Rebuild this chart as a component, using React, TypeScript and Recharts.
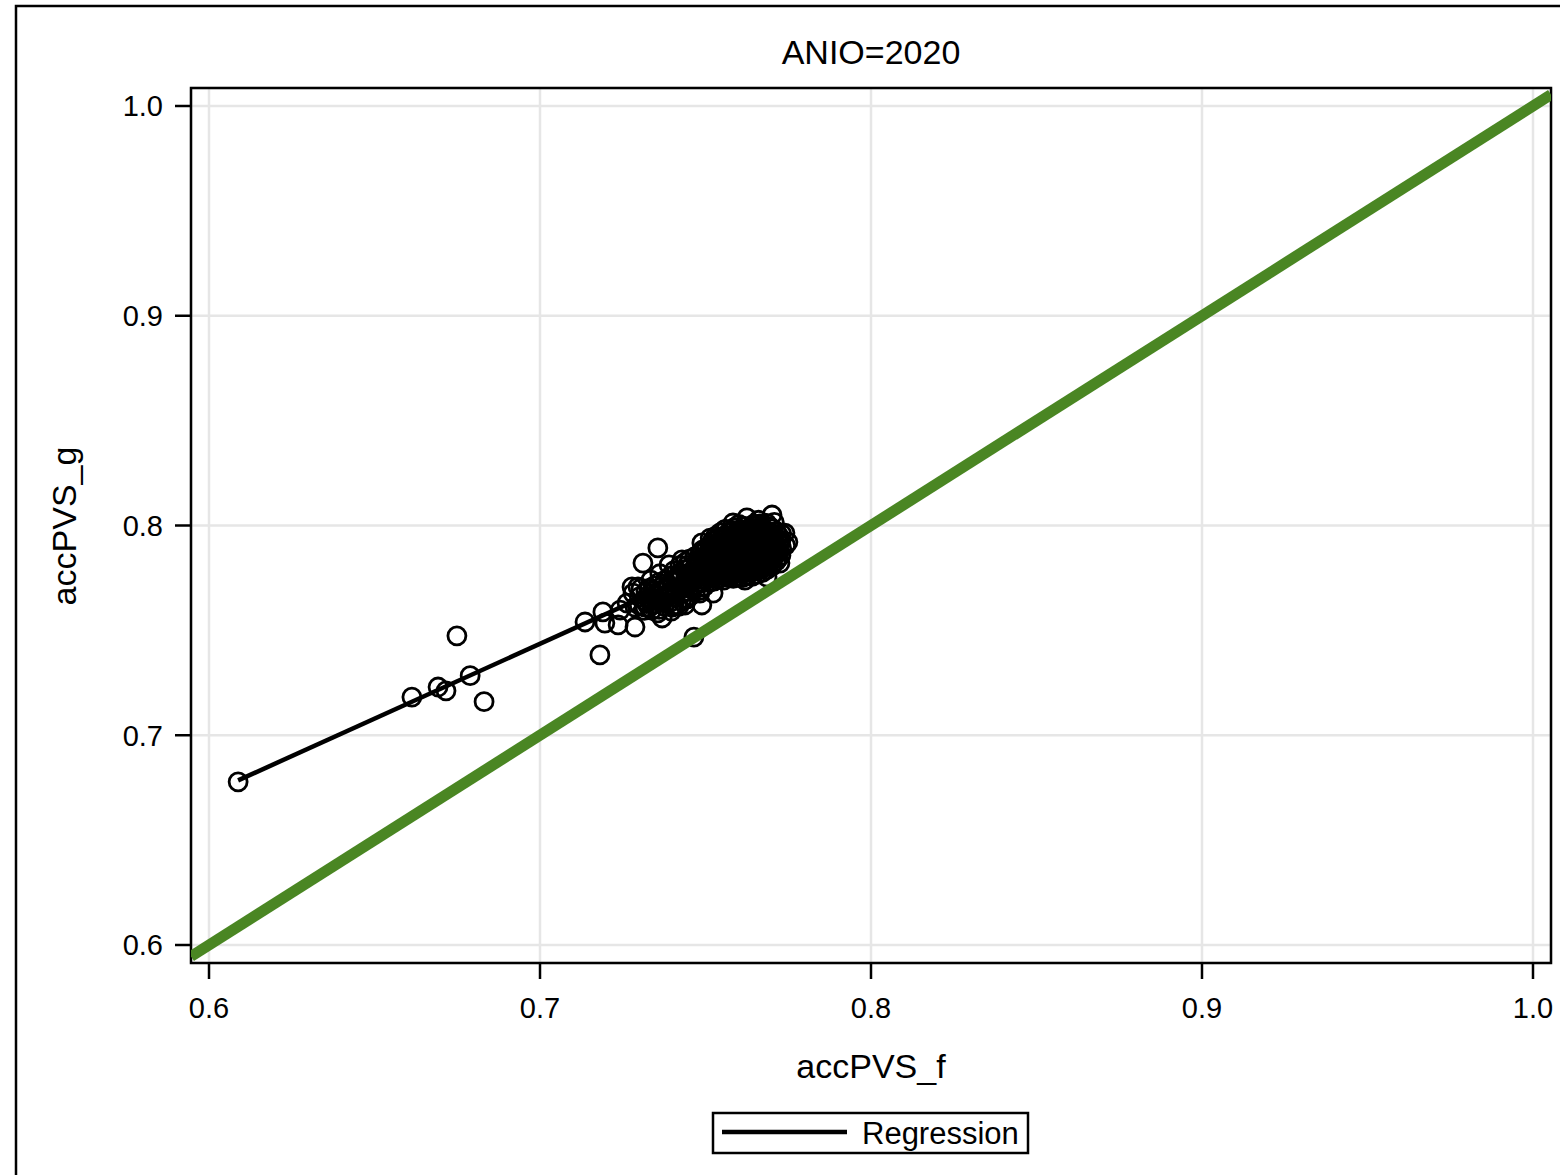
import React from "react";
import {
  ComposedChart,
  Scatter,
  XAxis,
  YAxis,
  CartesianGrid,
  ReferenceArea,
} from "recharts";

// ---- data ----
const titleText = "ANIO=2020";
const xLabel = "accPVS_f";
const yLabel = "accPVS_g";
const legendLabel = "Regression";

const xTicks = [0.6, 0.7, 0.8, 0.9, 1.0];
const yTicks = [0.6, 0.7, 0.8, 0.9, 1.0];
const xDomain: [number, number] = [0.59456, 1.00544];
const yDomain: [number, number] = [0.59142, 1.00858];

// isolated observations on the left
const leftPoints: [number, number][] = [
  [0.6088, 0.6778], [0.6613, 0.7182], [0.6692, 0.7230], [0.6716, 0.7212],
  [0.6749, 0.7474], [0.6789, 0.7284], [0.6831, 0.7160],
];

// lower-left tail of the cluster
const tailPoints: [number, number][] = [
  [0.7136, 0.7540], [0.7181, 0.7383], [0.7190, 0.7588], [0.7196, 0.7535],
  [0.7236, 0.7526], [0.7242, 0.7597], [0.7263, 0.7630], [0.7281, 0.7678],
  [0.7287, 0.7516], [0.7296, 0.7707], [0.7278, 0.7707], [0.7311, 0.7821],
  [0.7356, 0.7893], [0.7317, 0.7611], [0.7338, 0.7645], [0.7356, 0.7583],
  [0.7369, 0.7559], [0.7465, 0.7468], [0.7489, 0.7621], [0.7414, 0.7621],
  [0.7287, 0.7611], [0.7338, 0.7597], [0.7399, 0.7611], [0.7438, 0.7621],
  [0.7483, 0.7678], [0.7523, 0.7678], [0.7619, 0.7740], [0.7429, 0.7836],
  [0.7390, 0.7812],
  [0.7300, 0.7620], [0.7300, 0.7660], [0.7305, 0.7700],
  [0.7315, 0.7595], [0.7318, 0.7640], [0.7320, 0.7685],
  [0.7330, 0.7610], [0.7332, 0.7655], [0.7330, 0.7700], [0.7335, 0.7740],
  [0.7345, 0.7625], [0.7347, 0.7668], [0.7345, 0.7712],
  [0.7360, 0.7600], [0.7362, 0.7640], [0.7360, 0.7685], [0.7358, 0.7728], [0.7362, 0.7770],
  [0.7375, 0.7615], [0.7377, 0.7655], [0.7375, 0.7698], [0.7378, 0.7740],
  [0.7390, 0.7630], [0.7392, 0.7672], [0.7390, 0.7715], [0.7393, 0.7758],
  [0.7405, 0.7620], [0.7407, 0.7660], [0.7405, 0.7700], [0.7408, 0.7742], [0.7405, 0.7785],
  [0.7428, 0.7640], [0.7430, 0.7680], [0.7445, 0.7650], [0.7447, 0.7685],
  [0.7322, 0.7628], [0.7340, 0.7688], [0.7352, 0.7645], [0.7368, 0.7710],
  [0.7383, 0.7668], [0.7398, 0.7735], [0.7412, 0.7680], [0.7418, 0.7760],
  [0.7435, 0.7705], [0.7397, 0.7592], [0.7420, 0.7615], [0.7455, 0.7665],
];

// dense core of the cluster
const corePoints: [number, number][] = [
  [0.7420, 0.7705], [0.7422, 0.7738], [0.7420, 0.7772], [0.7423, 0.7810],
  [0.7438, 0.7718], [0.7440, 0.7752], [0.7437, 0.7790], [0.7440, 0.7826],
  [0.7452, 0.7700], [0.7454, 0.7735], [0.7452, 0.7768], [0.7455, 0.7802], [0.7452, 0.7840],
  [0.7468, 0.7712], [0.7470, 0.7745], [0.7467, 0.7781], [0.7470, 0.7815], [0.7468, 0.7852],
  [0.7482, 0.7690], [0.7484, 0.7725], [0.7482, 0.7758], [0.7485, 0.7792], [0.7482, 0.7830], [0.7484, 0.7866],
  [0.7497, 0.7710], [0.7499, 0.7740], [0.7497, 0.7772], [0.7500, 0.7808], [0.7497, 0.7843], [0.7499, 0.7880], [0.7489, 0.7917],
  [0.7511, 0.7728], [0.7513, 0.7762], [0.7511, 0.7796], [0.7514, 0.7828], [0.7511, 0.7862], [0.7513, 0.7897], [0.7514, 0.7940],
  [0.7526, 0.7735], [0.7528, 0.7770], [0.7526, 0.7804], [0.7529, 0.7838], [0.7526, 0.7875], [0.7528, 0.7910], [0.7530, 0.7948],
  [0.7540, 0.7745], [0.7542, 0.7779], [0.7540, 0.7812], [0.7543, 0.7850], [0.7540, 0.7884], [0.7542, 0.7920], [0.7544, 0.7965],
  [0.7555, 0.7740], [0.7557, 0.7772], [0.7555, 0.7806], [0.7558, 0.7842], [0.7555, 0.7878], [0.7557, 0.7912], [0.7555, 0.7948], [0.7558, 0.7980],
  [0.7569, 0.7752], [0.7571, 0.7788], [0.7569, 0.7822], [0.7572, 0.7858], [0.7569, 0.7893], [0.7571, 0.7928], [0.7569, 0.7965], [0.7583, 0.8012],
  [0.7584, 0.7748], [0.7586, 0.7780], [0.7584, 0.7815], [0.7587, 0.7850], [0.7584, 0.7886], [0.7586, 0.7920], [0.7584, 0.7955], [0.7587, 0.7990],
  [0.7598, 0.7758], [0.7600, 0.7794], [0.7598, 0.7828], [0.7601, 0.7864], [0.7598, 0.7900], [0.7600, 0.7935], [0.7598, 0.7970], [0.7601, 0.8005],
  [0.7613, 0.7752], [0.7615, 0.7786], [0.7613, 0.7820], [0.7616, 0.7855], [0.7613, 0.7890], [0.7615, 0.7926], [0.7613, 0.7962], [0.7616, 0.7995],
  [0.7627, 0.7762], [0.7629, 0.7798], [0.7627, 0.7834], [0.7630, 0.7870], [0.7627, 0.7905], [0.7629, 0.7940], [0.7627, 0.7978], [0.7625, 0.8036],
  [0.7642, 0.7758], [0.7644, 0.7790], [0.7642, 0.7826], [0.7645, 0.7862], [0.7642, 0.7897], [0.7644, 0.7932], [0.7642, 0.7968], [0.7645, 0.8005],
  [0.7656, 0.7768], [0.7658, 0.7803], [0.7656, 0.7840], [0.7659, 0.7875], [0.7656, 0.7910], [0.7658, 0.7946], [0.7656, 0.7985], [0.7660, 0.8025],
  [0.7671, 0.7775], [0.7673, 0.7812], [0.7671, 0.7848], [0.7674, 0.7884], [0.7671, 0.7920], [0.7673, 0.7955], [0.7671, 0.7992],
  [0.7686, 0.7754], [0.7685, 0.7790], [0.7687, 0.7826], [0.7685, 0.7862], [0.7688, 0.7898], [0.7685, 0.7934], [0.7687, 0.7970], [0.7685, 0.8010],
  [0.7700, 0.7805], [0.7702, 0.7840], [0.7700, 0.7876], [0.7703, 0.7912], [0.7700, 0.7948], [0.7702, 0.7984], [0.7701, 0.8050],
  [0.7714, 0.7830], [0.7716, 0.7866], [0.7714, 0.7900], [0.7717, 0.7935], [0.7714, 0.7972],
  [0.7725, 0.7821], [0.7728, 0.7858], [0.7730, 0.7892], [0.7728, 0.7928], [0.7730, 0.7960],
  [0.7740, 0.7964], [0.7749, 0.7921], [0.7742, 0.7905],
];

// interleaved observations filling the core
const coreFillPoints: [number, number][] = [
  [0.7445, 0.7735], [0.7446, 0.7772], [0.7445, 0.7810],
  [0.7475, 0.7728], [0.7476, 0.7764], [0.7475, 0.7798], [0.7477, 0.7835],
  [0.7490, 0.7742], [0.7491, 0.7776], [0.7490, 0.7812], [0.7492, 0.7848], [0.7490, 0.7882],
  [0.7504, 0.7755], [0.7505, 0.7790], [0.7504, 0.7825], [0.7506, 0.7860], [0.7504, 0.7895],
  [0.7519, 0.7750], [0.7520, 0.7785], [0.7519, 0.7820], [0.7521, 0.7855], [0.7519, 0.7890], [0.7520, 0.7925],
  [0.7533, 0.7760], [0.7534, 0.7795], [0.7533, 0.7830], [0.7535, 0.7866], [0.7533, 0.7900], [0.7534, 0.7935],
  [0.7548, 0.7762], [0.7549, 0.7796], [0.7548, 0.7830], [0.7550, 0.7866], [0.7548, 0.7902], [0.7549, 0.7938],
  [0.7562, 0.7770], [0.7563, 0.7805], [0.7562, 0.7840], [0.7564, 0.7875], [0.7562, 0.7910], [0.7563, 0.7946], [0.7562, 0.7982],
  [0.7577, 0.7765], [0.7578, 0.7800], [0.7577, 0.7835], [0.7579, 0.7870], [0.7577, 0.7905], [0.7578, 0.7940], [0.7577, 0.7975],
  [0.7591, 0.7775], [0.7592, 0.7810], [0.7591, 0.7845], [0.7593, 0.7880], [0.7591, 0.7916], [0.7592, 0.7952], [0.7591, 0.7988],
  [0.7606, 0.7770], [0.7607, 0.7805], [0.7606, 0.7840], [0.7608, 0.7874], [0.7606, 0.7910], [0.7607, 0.7945], [0.7606, 0.7980],
  [0.7620, 0.7778], [0.7621, 0.7814], [0.7620, 0.7850], [0.7622, 0.7886], [0.7620, 0.7922], [0.7621, 0.7958], [0.7620, 0.7995],
  [0.7635, 0.7775], [0.7636, 0.7810], [0.7635, 0.7845], [0.7637, 0.7880], [0.7635, 0.7915], [0.7636, 0.7952], [0.7635, 0.7990],
  [0.7649, 0.7785], [0.7650, 0.7820], [0.7649, 0.7856], [0.7651, 0.7892], [0.7649, 0.7928], [0.7650, 0.7962], [0.7649, 0.7998],
  [0.7664, 0.7790], [0.7665, 0.7826], [0.7664, 0.7862], [0.7666, 0.7898], [0.7664, 0.7934], [0.7665, 0.7970], [0.7664, 0.8008],
  [0.7678, 0.7800], [0.7679, 0.7836], [0.7678, 0.7872], [0.7680, 0.7908], [0.7678, 0.7944], [0.7679, 0.7980],
  [0.7693, 0.7815], [0.7694, 0.7850], [0.7693, 0.7886], [0.7695, 0.7922], [0.7693, 0.7958], [0.7694, 0.7995],
  [0.7707, 0.7848], [0.7708, 0.7884], [0.7707, 0.7918], [0.7709, 0.7954], [0.7708, 0.8015],
  [0.7721, 0.7845], [0.7722, 0.7880], [0.7721, 0.7915], [0.7722, 0.7950],
];

const regressionLine = [
  { x: 0.6088, y: 0.6785 },
  { x: 0.7745, y: 0.7968 },
];
const identityLine = [
  { x: 0.59456, y: 0.59456 },
  { x: 1.00544, y: 1.00544 },
];

const scatterData = [...leftPoints, ...tailPoints, ...corePoints, ...coreFillPoints].map(([f, g]) => ({ x: f, y: g }));

const FONT = "Arial, 'Liberation Sans', Helvetica, sans-serif";
const GREEN = "#4a8623";

const Ring = (props: any) => {
  if (props.cx == null || props.cy == null) return <g />;
  return <circle cx={props.cx} cy={props.cy} r={9} fill="none" stroke="#000" strokeWidth={2.8} />;
};
const NoShape = () => <g />;

export default function App() {
  return (
    <div style={{ position: "absolute", left: 0, top: 0, width: 1560, height: 1175, overflow: "hidden", background: "#fff" }}>
      <ComposedChart
        width={1560}
        height={1175}
        margin={{ top: 88, right: 9, bottom: 152, left: 0 }}
        style={{ fontFamily: FONT }}
      >
        <CartesianGrid stroke="#e6e6e6" strokeWidth={2.5} />
        <XAxis
          type="number"
          dataKey="x"
          domain={xDomain}
          allowDataOverflow
          ticks={xTicks}
          tickFormatter={(v: number) => v.toFixed(1)}
          height={60}
          tickSize={16}
          tickMargin={18}
          axisLine={false}
          tickLine={{ stroke: "#000", strokeWidth: 2.5 }}
          tick={{ fill: "#000", fontSize: 29, fontFamily: FONT }}
          interval={0}
        />
        <YAxis
          type="number"
          dataKey="y"
          domain={yDomain}
          allowDataOverflow
          ticks={yTicks}
          tickFormatter={(v: number) => v.toFixed(1)}
          width={191}
          tickSize={16}
          tickMargin={12}
          axisLine={false}
          tickLine={{ stroke: "#000", strokeWidth: 2.5 }}
          tick={{ fill: "#000", fontSize: 29, fontFamily: FONT }}
          interval={0}
        />
        <Scatter data={scatterData} shape={Ring} isAnimationActive={false} />
        <Scatter
          data={regressionLine}
          shape={NoShape}
          stroke="#000"
          strokeWidth={4.5}
          line={{ stroke: "#000", strokeWidth: 4.5 }}
          isAnimationActive={false}
        />
        <Scatter
          data={identityLine}
          shape={NoShape}
          stroke={GREEN}
          strokeWidth={11}
          line={{ stroke: GREEN, strokeWidth: 11 }}
          isAnimationActive={false}
        />
        <ReferenceArea
          x1={xDomain[0]}
          x2={xDomain[1]}
          y1={yDomain[0]}
          y2={yDomain[1]}
          fill="none"
          fillOpacity={0}
          stroke="#000"
          strokeWidth={2.5}
          ifOverflow="visible"
        />
      </ComposedChart>
      <svg
        width={1560}
        height={1175}
        style={{ position: "absolute", left: 0, top: 0, pointerEvents: "none" }}
        fontFamily={FONT}
      >
        <rect x={16} y={6} width={1700} height={1300} fill="none" stroke="#000" strokeWidth={2.5} />
        <text x={871} y={64} textAnchor="middle" fontSize={34} fill="#000">{titleText}</text>
        <text x={871} y={1078} textAnchor="middle" fontSize={34} fill="#000">{xLabel}</text>
        <text
          x={0}
          y={0}
          transform="translate(76,526) rotate(-90)"
          textAnchor="middle"
          fontSize={34}
          fill="#000"
        >
          {yLabel}
        </text>
        <rect x={713} y={1113} width={315} height={40} fill="#fff" stroke="#000" strokeWidth={2.5} />
        <line x1={722} x2={847} y1={1132} y2={1132} stroke="#000" strokeWidth={4.5} />
        <text x={862} y={1144} fontSize={31} fill="#000">{legendLabel}</text>
      </svg>
    </div>
  );
}
